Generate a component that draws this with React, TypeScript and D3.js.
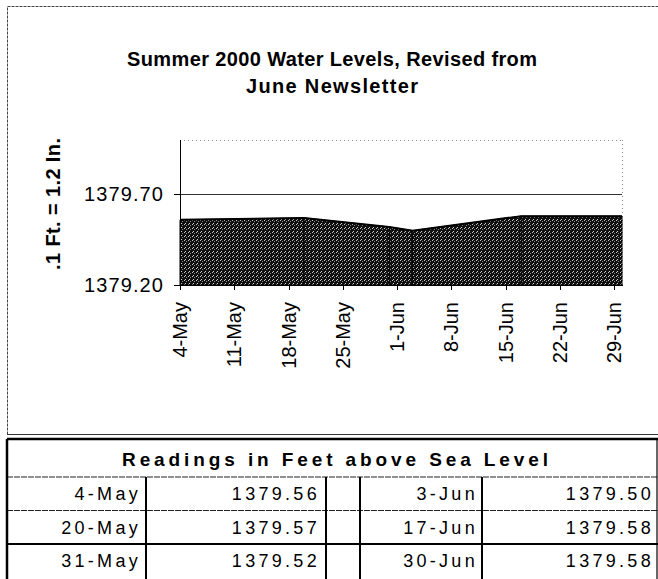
import React from 'react'
import * as d3 from 'd3'

// readings (also used for the table)
const readingDates = ['2000-05-04', '2000-05-20', '2000-05-31', '2000-06-03', '2000-06-17', '2000-06-30']
const readingLabels = ['4-May', '20-May', '31-May', '3-Jun', '17-Jun', '30-Jun']
const readingValues = [1379.56, 1379.57, 1379.52, 1379.5, 1379.58, 1379.58]

// axis ticks
const xTickDates = ['2000-05-04', '2000-05-11', '2000-05-18', '2000-05-25', '2000-06-01', '2000-06-08', '2000-06-15', '2000-06-22', '2000-06-29']
const xTickLabels = ['4-May', '11-May', '18-May', '25-May', '1-Jun', '8-Jun', '15-Jun', '22-Jun', '29-Jun']
const yTicks = [1379.2, 1379.7]
const yTickLabels = ['1379.20', '1379.70']

const titleLines = ['Summer 2000 Water Levels, Revised from', 'June Newsletter']
const yAxisTitle = '.1 Ft. = 1.2 In.'
const tableTitle = 'Readings in Feet above Sea Level'

const font = '"Liberation Sans", Arial, sans-serif'

export default function App() {
  const W = 658, H = 579
  const left = 180, right = 622, top = 140, bottom = 285

  const parse = d3.utcParse('%Y-%m-%d')
  const x = d3.scaleUtc()
    .domain([parse(readingDates[0])!, parse(readingDates[readingDates.length - 1])!])
    .range([left, right])
  const y = d3.scaleLinear().domain([1379.2, 1380.0]).range([bottom, top])

  const pts = readingDates.map((d, i) => ({ date: parse(d)!, v: readingValues[i] }))
  const area = d3.area<{ date: Date; v: number }>()
    .x(d => x(d.date))
    .y0(y(1379.2))
    .y1(d => y(d.v))
  const line = d3.line<{ date: Date; v: number }>()
    .x(d => x(d.date))
    .y(d => y(d.v))

  // table geometry
  const tTop = 439, headBottom = 477, rowH = 33.5
  const cols = [7, 146, 326, 360, 482, 657]
  const rows = [0, 1, 2].map(i => ({
    d1: readingLabels[i], v1: readingValues[i].toFixed(2),
    d2: readingLabels[i + 3], v2: readingValues[i + 3].toFixed(2)
  }))
  const cellText = { fontFamily: font, fontSize: 18, letterSpacing: 3.3, textAnchor: 'end' as const }

  return (
    <svg width={W} height={H} style={{ position: 'absolute', left: 0, top: 0, background: '#fff' }}>
      <defs>
        <pattern id="stipple" width={4} height={4} patternUnits="userSpaceOnUse">
          <rect width={4} height={4} fill="#101010" />
          <rect x={0} y={0} width={1} height={1} fill="#c8c8c8" />
          <rect x={2} y={1} width={1} height={1} fill="#8a8a8a" />
          <rect x={1} y={3} width={1} height={1} fill="#d0d0d0" />
        </pattern>
      </defs>

      {/* chart frame */}
      <rect x={7.5} y={6.5} width={720} height={428} fill="none" stroke="#444" strokeDasharray="3,1" />
      <line x1={7} x2={658} y1={434.5} y2={434.5} stroke="#333" strokeWidth={1} />

      {/* title */}
      {titleLines.map((t, i) => (
        <text key={t} x={332} y={66 + i * 27} textAnchor="middle" fontFamily={font} fontWeight="bold" fontSize={20}
          textLength={i === 0 ? 410 : 172} lengthAdjust="spacing">{t}</text>
      ))}

      {/* plot area borders */}
      <line x1={left} x2={right} y1={top + 0.5} y2={top + 0.5} stroke="#888" strokeDasharray="1,3" />
      <line x1={right + 0.5} x2={right + 0.5} y1={top} y2={bottom} stroke="#888" strokeDasharray="1,3" />
      {yTicks.slice(1).map(t => (
        <line key={t} x1={left} x2={right} y1={Math.round(y(t)) + 0.5} y2={Math.round(y(t)) + 0.5} stroke="#333" />
      ))}

      {/* area */}
      <path d={area(pts)!} fill="url(#stipple)" stroke="#000" strokeWidth={1} />
      <path d={line(pts)!} fill="none" stroke="#000" strokeWidth={2} />
      {pts.slice(1, -1).map((p, i) => (
        <line key={i} x1={x(p.date)} x2={x(p.date)} y1={y(p.v)} y2={bottom} stroke="#000" strokeWidth={1} />
      ))}

      {/* axes */}
      <line x1={left + 0.5} x2={left + 0.5} y1={top} y2={bottom} stroke="#000" />
      <line x1={left} x2={right + 1} y1={bottom + 0.5} y2={bottom + 0.5} stroke="#000" />
      {yTicks.map((t, i) => (
        <g key={t}>
          <line x1={left - 6} x2={left} y1={Math.round(y(t)) + 0.5} y2={Math.round(y(t)) + 0.5} stroke="#000" />
          <text x={164} y={y(t) + 7} textAnchor="end" fontFamily={font} fontSize={20} letterSpacing={1.1}>{yTickLabels[i]}</text>
        </g>
      ))}
      {xTickDates.map((d, i) => {
        const px = Math.round(x(parse(d)!)) + 0.5
        return (
          <g key={d}>
            <line x1={px} x2={px} y1={bottom} y2={bottom + 5} stroke="#000" />
            <text transform={`translate(${px + 6},${302}) rotate(-90)`} textAnchor="end" fontFamily={font} fontSize={20}>
              {xTickLabels[i]}
            </text>
          </g>
        )
      })}
      <text transform={`translate(60,${204}) rotate(-90)`} textAnchor="middle" fontFamily={font} fontWeight="bold" fontSize={20}
        textLength={132} lengthAdjust="spacing">{yAxisTitle}</text>

      {/* table */}
      <text x={335} y={466} textAnchor="middle" fontFamily={font} fontWeight="bold" fontSize={19}
        textLength={426} lengthAdjust="spacing">{tableTitle}</text>
      <line x1={7} x2={658} y1={tTop} y2={tTop} stroke="#000" strokeWidth={2.5} />
      <line x1={7} x2={658} y1={headBottom} y2={headBottom} stroke="#222" strokeWidth={1.2} strokeDasharray="6,1" />
      <line x1={7} x2={658} y1={headBottom + rowH} y2={headBottom + rowH} stroke="#222" strokeWidth={1.2} strokeDasharray="6,1" />
      <line x1={7} x2={658} y1={headBottom + rowH * 2} y2={headBottom + rowH * 2} stroke="#000" strokeWidth={2} />
      <line x1={7} x2={7} y1={tTop} y2={H} stroke="#000" strokeWidth={2.5} />
      <line x1={cols[5]} x2={cols[5]} y1={tTop} y2={H} stroke="#000" strokeWidth={1.2} />
      {cols.slice(1, 5).map(c => (
        <line key={c} x1={c} x2={c} y1={headBottom} y2={H} stroke="#000" strokeWidth={2} />
      ))}
      {rows.map((r, i) => {
        const by = headBottom + rowH * i + 23
        return (
          <g key={i} style={cellText}>
            <text x={cols[1] - 5} y={by} fontFamily={font} fontSize={18} textAnchor="end">{r.d1}</text>
            <text x={cols[2] - 6} y={by} fontFamily={font} fontSize={18} textAnchor="end">{r.v1}</text>
            <text x={cols[4] - 4} y={by} fontFamily={font} fontSize={18} textAnchor="end">{r.d2}</text>
            <text x={cols[5] - 3} y={by} fontFamily={font} fontSize={18} textAnchor="end">{r.v2}</text>
          </g>
        )
      })}
    </svg>
  )
}
